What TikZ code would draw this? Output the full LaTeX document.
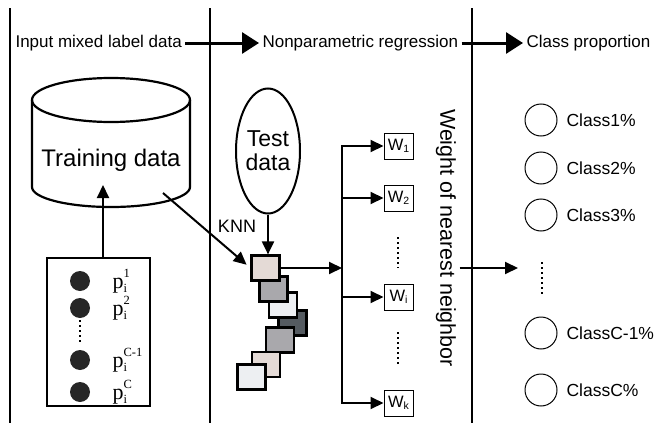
\documentclass[tikz,border=0pt]{standalone}
\usepackage{fontspec}
\setmainfont{Liberation Sans}
\newfontfamily\timesfont{Liberation Serif}
\usetikzlibrary{arrows.meta,shapes.geometric,positioning}

\definecolor{sqpink}{HTML}{E4DAD6}
\definecolor{sqgrey}{HTML}{A9A8AC}
\definecolor{sqlight}{HTML}{EDEFF2}
\definecolor{sqdark}{HTML}{555B61}

\newcommand{\fsz}[1]{\fontsize{#1}{#1}\selectfont}
\newcommand{\plab}[1]{{\timesfont\fsz{22}p\rlap{\raisebox{-0.45ex}{\fsz{12.5}i}}\raisebox{1.05ex}{\fsz{12.5}#1}}}
\newcommand{\wlab}[1]{W\raisebox{-0.3ex}{\fsz{10.5}#1}}

\begin{document}
\begin{tikzpicture}[x=1pt,y=-1pt,
  font=\fsz{17},
  sepline/.style={line width=1.8pt},
  bigarrow/.style={line width=3pt,-{Triangle[length=17pt,width=21pt]}},
  arr/.style={line width=2pt,-{Triangle[length=13pt,width=12pt]}},
  wbox/.style={draw,line width=1pt,minimum width=29pt,minimum height=26pt,inner sep=0pt,font=\fsz{16.5}},
  cls/.style={draw,circle,line width=1pt,minimum size=32pt,inner sep=0pt},
  knnsq/.style={draw,line width=2.2pt,minimum width=28pt,minimum height=25pt,inner sep=0pt},
  pdot/.style={circle,fill=black!85,minimum size=20pt,inner sep=0pt},
  dotline/.style={line width=2.6pt,dash pattern=on 2.4pt off 2.6pt},
  every node/.style={align=center}]

\useasboundingbox (0,0) rectangle (659,423);

%column borders
\foreach \x in {10,210,472}
  \draw[sepline] (\x,8) -- (\x,423);

%headings
\node[anchor=west] (hin) at (12,43) {Input mixed label data};
\node[anchor=west] (hreg) at (259,43) {Nonparametric regression};
\node[anchor=west] (hout) at (523,43) {Class proportion};
\draw[bigarrow] (hin) -- (hreg);
\draw[bigarrow] (hreg) -- (hout);

%training data store
\draw[line width=2.2pt] (111,100) ellipse [x radius=79,y radius=22];
\draw[line width=2.2pt] (32,100) -- (32,187)
   arc[start angle=180,end angle=0,x radius=79,y radius=20] -- (190,100);
\node[font=\fsz{24}] (train) at (111,160) {Training data};
\coordinate (trainin) at (103,185);
\coordinate (trainout) at (163,193);

%mixed labels
\node[draw,line width=1.2pt,minimum width=103pt,minimum height=148pt] (pbox) at (98.5,332) {};
\foreach \i/\y/\s in {1/281/1,2/308/2,3/360/C-1,4/392/C} {
  \node[pdot] (pd\i) at (80,\y) {};
  \node[anchor=west] (pl\i) at (109,\y) {\plab{\s}};
}
\draw[dotline] (80,320) -- (80,343);
\draw[arr] (pbox.north -| trainin) -- (trainin);

%test sample and knn
\node[draw,ellipse,line width=2pt,minimum width=64pt,minimum height=125pt,inner sep=0pt,font=\fsz{23}] (test) at (268,151) {Test\\[1pt]data};
\node[font=\fsz{18}] (knn) at (237,226) {KNN};
\foreach \i/\x/\y/\c in {4/292.5/323/sqdark, 3/283/305/sqlight, 2/273.5/289/sqgrey, 1/265.5/268/sqpink,
                         5/280/340/sqgrey, 6/266/364.5/sqpink, 7/251.5/377/sqlight}
  \node[knnsq,fill=\c] (sq\i) at (\x,\y) {};
\draw[arr] (test.south) -- (test.south |- sq1.north);
\draw[arr,shorten >=5pt] (trainout) -- (sq1.west);

%weights
\coordinate (bustop) at (342,146);
\coordinate (busbot) at (342,403);
\draw[line width=2pt,line cap=rect] (bustop) -- (busbot);
\draw[arr] (sq1.east) -- (sq1.east -| bustop);
\foreach \i/\y/\s in {1/146/1,2/198/2,i/297/i,k/403/k} {
  \node[wbox] (w\i) at (398.5,\y) {\wlab{\s}};
  \draw[arr] (w\i.west -| bustop) -- (w\i.west);
}
\draw[dotline] (398,237) -- (398,268);
\draw[dotline] (398,332) -- (398,365);
\node[rotate=-90,font=\fsz{21.5}] (weight) at (446,238) {Weight of nearest neighbor};

%class proportions
\coordinate (clsin) at (518,268);
\draw[arr] (weight.north |- clsin) -- (clsin);
\foreach \i/\y/\t in {1/120/Class1\%,2/168/Class2\%,3/215/Class3\%,4/333/ClassC-1\%,5/390/ClassC\%} {
  \node[cls] (c\i) at (541,\y) {};
  \node[anchor=west,font=\fsz{17.5}] (ct\i) at (563,\y) {\t};
}
\draw[dotline] (542,262) -- (542,295);

\end{tikzpicture}
\end{document}
